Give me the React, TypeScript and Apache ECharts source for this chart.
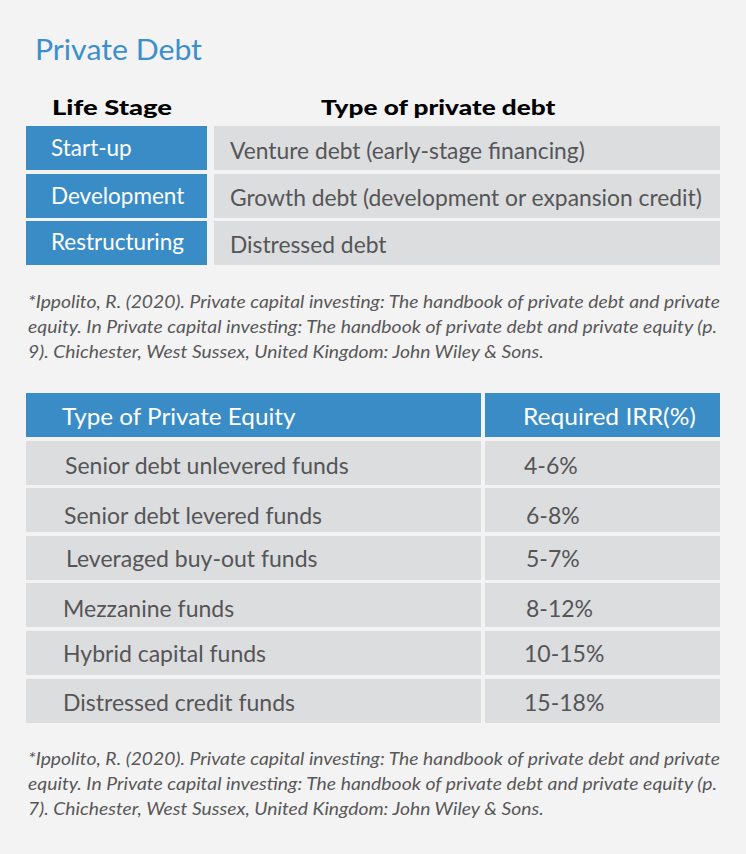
import React, { useEffect, useRef } from "react";
import * as echarts from "echarts";

const debtHeaders = ["Life Stage", "Type of private debt"];
const lifeStages = ["Start-up", "Development", "Restructuring"];
const debtTypes = [
  "Venture debt (early-stage financing)",
  "Growth debt (development or expansion credit)",
  "Distressed debt",
];
const equityHeaders = ["Type of Private Equity", "Required IRR(%)"];
const equityTypes = [
  "Senior debt unlevered funds",
  "Senior debt levered funds",
  "Leveraged buy-out funds",
  "Mezzanine funds",
  "Hybrid capital funds",
  "Distressed credit funds",
];
const irrRanges = ["4-6%", "6-8%", "5-7%", "8-12%", "10-15%", "15-18%"];
const footnote1 = [
  "*Ippolito, R. (2020). Private capital investing: The handbook of private debt and private",
  "equity. In Private capital investing: The handbook of private debt and private equity (p.",
  "9). Chichester, West Sussex, United Kingdom: John Wiley & Sons.",
];
const footnote2 = [
  "*Ippolito, R. (2020). Private capital investing: The handbook of private debt and private",
  "equity. In Private capital investing: The handbook of private debt and private equity (p.",
  "7). Chichester, West Sussex, United Kingdom: John Wiley & Sons.",
];

const BLUE = "#3a8cc7";
const GRAY = "#dcdddf";
const TEXT = "#555557";
const FONT = "Lato";

export default function App() {
  const ref = useRef<HTMLDivElement>(null);
  useEffect(() => {
    if (!ref.current) return;
    const chart = echarts.init(ref.current, null, { renderer: "svg" });
    const canvas = document.createElement("canvas");
    const ctx = canvas.getContext("2d")!;
    const fontStr = (size: number, weight: any, style: string) =>
      `${style} ${weight} ${size}px ${FONT}`;
    const measure = (t: string, font: string) => {
      ctx.font = font;
      return ctx.measureText(t).width;
    };

    const els: any[] = [];
    const rect = (x: number, y: number, w: number, h: number, fill: string) =>
      els.push({ type: "rect", shape: { x, y, width: w, height: h }, style: { fill }, silent: true });
    const text = (
      t: string,
      x: number,
      y: number,
      size: number,
      fill: string,
      weight: any = "normal",
      extra: any = {}
    ) => {
      const f = fontStr(size, weight, extra.style || "normal");
      let sx = extra.scaleX || 1;
      if (extra.width) sx = extra.width / measure(t, f);
      els.push({
        type: "text",
        x,
        y,
        style: {
          text: t,
          x: 0,
          y: 0,
          fill,
          font: f,
          textVerticalAlign: "middle",
          textAlign: "left",
        },
        scaleX: sx,
        silent: true,
      });
      return sx;
    };

    // Title
    text("Private Debt", 35, 49, 28, "#3d8fcc", "normal", { width: 167 });

    // Top table headers
    text(debtHeaders[0], 52, 107, 21, "#000", "900", { width: 120 });
    text(debtHeaders[1], 321, 107, 21, "#000", "900", { width: 235 });

    const topRows = [126, 174, 221];
    const topTextDy = [-0.5, -1, -1.5];
    lifeStages.forEach((s, i) => {
      const y = topRows[i];
      rect(26, y, 181, 44, BLUE);
      rect(214, y, 506, 44, GRAY);
      text(s, 51, y + 22 + topTextDy[i], 22.5, "#fff");
      text(debtTypes[i], 230, y + 24 + topTextDy[i], 22.8, TEXT);
    });

    // Footnotes
    const fnSize = 17;
    const fnFont = fontStr(fnSize, "normal", "italic");
    const drawFoot = (lines: string[], y0: number) => {
      const targets = [693, 691];
      const s0 = targets[0] / measure(lines[0], fnFont);
      lines.forEach((l, i) => {
        const opts: any = { style: "italic" };
        if (i < 2) opts.width = targets[i];
        else opts.scaleX = s0;
        text(l, 28, y0 + i * 25, fnSize, "#58585a", "normal", opts);
      });
    };
    drawFoot(footnote1, 301);

    // Second table
    rect(26, 393, 455, 44, BLUE);
    rect(485, 393, 235, 44, BLUE);
    text(equityHeaders[0], 62, 416, 23, "#fff", "normal", { width: 234 });
    text(equityHeaders[1], 523, 416, 23, "#fff", "normal", { width: 173 });
    const rows = [441, 488, 536, 583, 631, 679];
    const dy = [2, 5, 0, 3, 0, 1];
    const dxL = [65, 64, 66, 63, 63, 63];
    const dxR = [524, 526, 526, 526, 524, 524];
    equityTypes.forEach((t, i) => {
      const y = rows[i];
      rect(26, y, 455, 44, GRAY);
      rect(485, y, 235, 44, GRAY);
      text(t, dxL[i], y + 22 + dy[i], 23, TEXT);
      text(irrRanges[i], dxR[i], y + 22 + dy[i], 23, TEXT);
    });

    drawFoot(footnote2, 758);

    chart.setOption({
      animation: false,
      backgroundColor: "#f3f3f3",
      graphic: { elements: els },
    });
    return () => chart.dispose();
  }, []);
  return (
    <div
      ref={ref}
      style={{ position: "absolute", left: 0, top: 0, width: 746, height: 854 }}
    />
  );
}
